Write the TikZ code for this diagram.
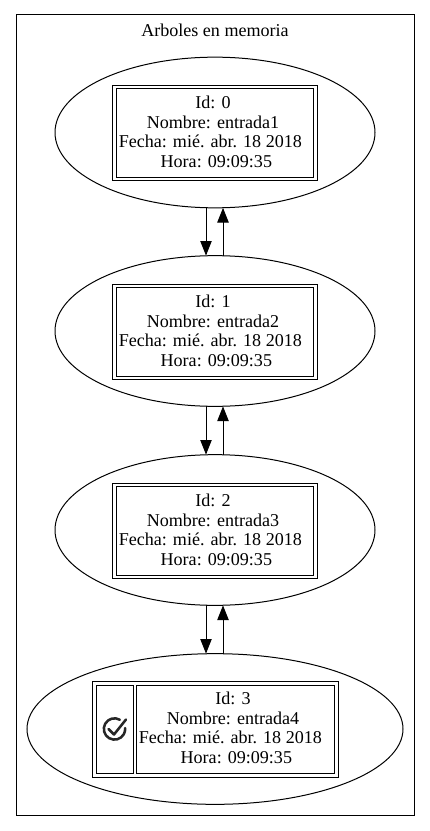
\documentclass[tikz,border=0pt]{standalone}
\usepackage{fontspec}
\setmainfont{Liberation Serif}
\usetikzlibrary{shapes.geometric,arrows.meta}
\tikzset{
  x=0.75pt,y=-0.75pt,
  every node/.style={inner sep=0pt,outer sep=0pt},
  elli/.style={draw,line width=0.75pt,ellipse,minimum width=240pt,minimum height=113pt},
  ellib/.style={elli,minimum width=282pt},
  boxo/.style={draw,line width=0.75pt,rectangle,minimum width=153.75pt,minimum height=71.25pt},
  boxi/.style={draw,line width=0.75pt,rectangle,minimum width=148pt,minimum height=66.5pt},
  txt/.style={align=center,font=\fontsize{13.55pt}{14.7pt}\selectfont},
  arr/.style={draw,line width=0.75pt,-{Triangle[length=11pt,width=8.5pt]}},
  dn/.style={xshift=-6.75pt},
  up/.style={xshift=6pt},
  icon/.style={line width=1.9pt,line cap=round,line join=round,black!85},
}
\newcommand{\rec}[2]{Id: #1\\Nombre: #2\\Fecha: mié. abr. 18 2018\kern 4pt\\\kern 5pt Hora: 09:09:35}
\begin{document}
\begin{tikzpicture}
\useasboundingbox (0,0) rectangle (429,831);
\node[draw,line width=0.75pt,minimum width=298.5pt,minimum height=600pt] (frame) at (215,415) {};
\node[font=\fontsize{13.55pt}{13pt}\selectfont] (title) at (215,30.5) {Arboles en memoria};

\node[elli] (e0) at (215,132.5) {};
\node[elli] (e1) at (215,331) {};
\node[elli] (e2) at (215,530) {};
\node[ellib] (e3) at (215,729) {};

\node[boxo] (o0) at (215,133) {};
\node[boxi] (i0) at (215,133) {};
\node[txt] (t0) at (213,132) {\rec{0}{entrada1}};
\node[boxo] (o1) at (215,332) {};
\node[boxi] (i1) at (215,332) {};
\node[txt] (t1) at (213,331) {\rec{1}{entrada2}};
\node[boxo] (o2) at (215,531) {};
\node[boxi] (i2) at (215,531) {};
\node[txt] (t2) at (213,530) {\rec{2}{entrada3}};

\node[draw,line width=0.75pt,minimum width=184.5pt,minimum height=72pt] (o3) at (215,729) {};
\node[draw,line width=0.75pt,minimum width=27.75pt,minimum height=66pt] (c3) at (114.5,729) {};
\node[draw,line width=0.75pt,minimum width=148.5pt,minimum height=66pt] (i3) at (235,729) {};
\node[txt] (t3) at (233,728) {\rec{3}{entrada4}};
\draw[icon] (c3.center) ++(5.35,-9.27) arc[start angle=60,end angle=365,radius=8pt];
\draw[icon] (c3.center) ++(-6,0) -- ++(5.5,5.5) -- ++(12,-15);

\draw[arr] ([dn]e0.south) -- ([dn]e1.north);
\draw[arr] ([up]e1.north) -- ([up]e0.south);
\draw[arr] ([dn]e1.south) -- ([dn]e2.north);
\draw[arr] ([up]e2.north) -- ([up]e1.south);
\draw[arr] ([dn]e2.south) -- ([dn]e3.north);
\draw[arr] ([up]e3.north) -- ([up]e2.south);
\end{tikzpicture}
\end{document}
